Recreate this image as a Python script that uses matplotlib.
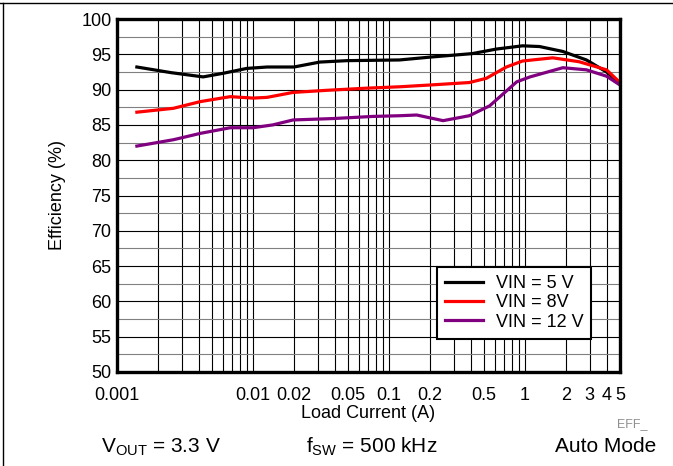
import matplotlib
matplotlib.use("Agg")
import matplotlib.pyplot as plt
from matplotlib.lines import Line2D
from matplotlib.ticker import FixedLocator, NullFormatter, LogLocator

plt.rcParams['font.family'] = ['Liberation Sans', 'DejaVu Sans']
plt.rcParams['mathtext.fontset'] = 'custom'
plt.rcParams['mathtext.rm'] = 'Liberation Sans'
plt.rcParams['mathtext.it'] = 'Liberation Sans:italic'

# ---- data ----
x_5v = [0.0014, 0.0025, 0.0043, 0.006, 0.009, 0.0127, 0.02, 0.031, 0.049, 0.12,
        0.2, 0.41, 0.62, 0.96, 1.28, 1.9, 2.83, 3.98, 5]
y_5v = [93.2, 92.4, 91.8, 92.3, 93.0, 93.2, 93.2, 93.9, 94.1, 94.2,
        94.6, 95.1, 95.75, 96.2, 96.1, 95.4, 94.2, 92.5, 90.9]

x_8v = [0.0014, 0.0026, 0.0041, 0.0068, 0.01, 0.0127, 0.0197, 0.035, 0.068, 0.12,
        0.2, 0.39, 0.52, 0.73, 0.96, 1.6, 2.5, 3.98, 5]
y_8v = [86.8, 87.35, 88.3, 89.0, 88.8, 88.9, 89.6, 89.9, 90.2, 90.4,
        90.65, 91.0, 91.6, 93.2, 94.05, 94.5, 93.95, 92.8, 91.0]

x_12v = [0.0014, 0.0026, 0.0041, 0.0068, 0.01, 0.014, 0.0197, 0.039, 0.076, 0.12,
         0.16, 0.25, 0.39, 0.55, 0.87, 1.09, 1.9, 2.83, 3.98, 5]
y_12v = [82.0, 82.9, 83.8, 84.6, 84.6, 85.0, 85.7, 85.9, 86.2, 86.3,
         86.4, 85.6, 86.3, 87.7, 91.1, 91.8, 93.1, 92.8, 91.9, 90.65]

series_labels = ["VIN = 5 V", "VIN = 8V", "VIN = 12 V"]
series_colors = ["#000000", "#ff0000", "#800080"]

x_tick_vals = [0.001, 0.01, 0.02, 0.05, 0.1, 0.2, 0.5, 1, 2, 3, 4, 5]
x_tick_labels = ["0.001", "0.01", "0.02", "0.05", "0.1", "0.2", "0.5", "1", "2", "3", "4", "5"]
y_tick_vals = list(range(50, 101, 5))

# ---- figure ----
W, H = 673, 466
fig = plt.figure(figsize=(W / 100, H / 100), dpi=100)
ax = fig.add_axes([117 / W, 1 - 372 / H, (620 - 117) / W, (372 - 19) / H])

for xs, ys, lab, col in zip([x_5v, x_8v, x_12v], [y_5v, y_8v, y_12v], series_labels, series_colors):
    ax.plot(xs, ys, color=col, lw=2.3, label=lab, zorder=3, solid_joinstyle='round')

ax.set_xscale('log')
ax.set_xlim(0.001, 5)
ax.set_ylim(50, 100)

ax.xaxis.set_major_locator(FixedLocator(x_tick_vals))
ax.set_xticklabels(x_tick_labels)
ax.xaxis.set_minor_locator(LogLocator(base=10, subs=range(1, 10), numticks=20))
ax.xaxis.set_minor_formatter(NullFormatter())
ax.yaxis.set_major_locator(FixedLocator(y_tick_vals))
ax.yaxis.set_minor_locator(FixedLocator([v + 2.5 for v in y_tick_vals[:-1]]))

ax.tick_params(axis='both', which='both', length=0, labelsize=13, colors='black')
ax.tick_params(axis='x', pad=10.5)
ax.tick_params(axis='y', pad=4)

ax.grid(True, axis='x', which='both', color='#000000', lw=0.8, zorder=1)
ax.grid(True, axis='y', which='major', color='#000000', lw=0.8, zorder=1)
ax.grid(True, axis='y', which='minor', color='#808080', lw=0.8, zorder=1)

for s in ax.spines.values():
    s.set_linewidth(2.4)
    s.set_color('black')
    s.set_zorder(4)

ax.set_xlabel("Load Current (A)", fontsize=13, labelpad=1)
ax.set_ylabel("Efficiency (%)", fontsize=13, labelpad=11)

leg = ax.legend(loc='upper left', bbox_to_anchor=(0.636, 0.297), fontsize=13,
                frameon=True, fancybox=False, framealpha=1, edgecolor='black',
                handlelength=2.1, handletextpad=0.7, borderpad=0.45, labelspacing=0.12,
                borderaxespad=0)
leg.get_frame().set_linewidth(1.5)
leg.set_zorder(5)

# bottom annotation texts
fig.text(101 / W, 1 - 447 / H, r"V$_{\mathrm{OUT}}$ = 3.3 V", fontsize=15, ha='left', va='center')
fig.text(306 / W, 1 - 447 / H, r"f$_{\mathrm{SW}}$ = 500 kHz", fontsize=15, ha='left', va='center')
fig.text(656 / W, 1 - 447 / H, "Auto Mode", fontsize=15, ha='right', va='center')
fig.text(647 / W, 1 - 424 / H, "EFF_", fontsize=9, ha='right', va='center', color='#909090')

# figure frame lines (top and left)
fig.add_artist(Line2D([0, 1], [1 - 3 / H, 1 - 3 / H], transform=fig.transFigure, color='black', lw=1))
fig.add_artist(Line2D([3 / W, 3 / W], [0, 1 - 3 / H], transform=fig.transFigure, color='black', lw=1))

fig.savefig("out.png", dpi=100)
